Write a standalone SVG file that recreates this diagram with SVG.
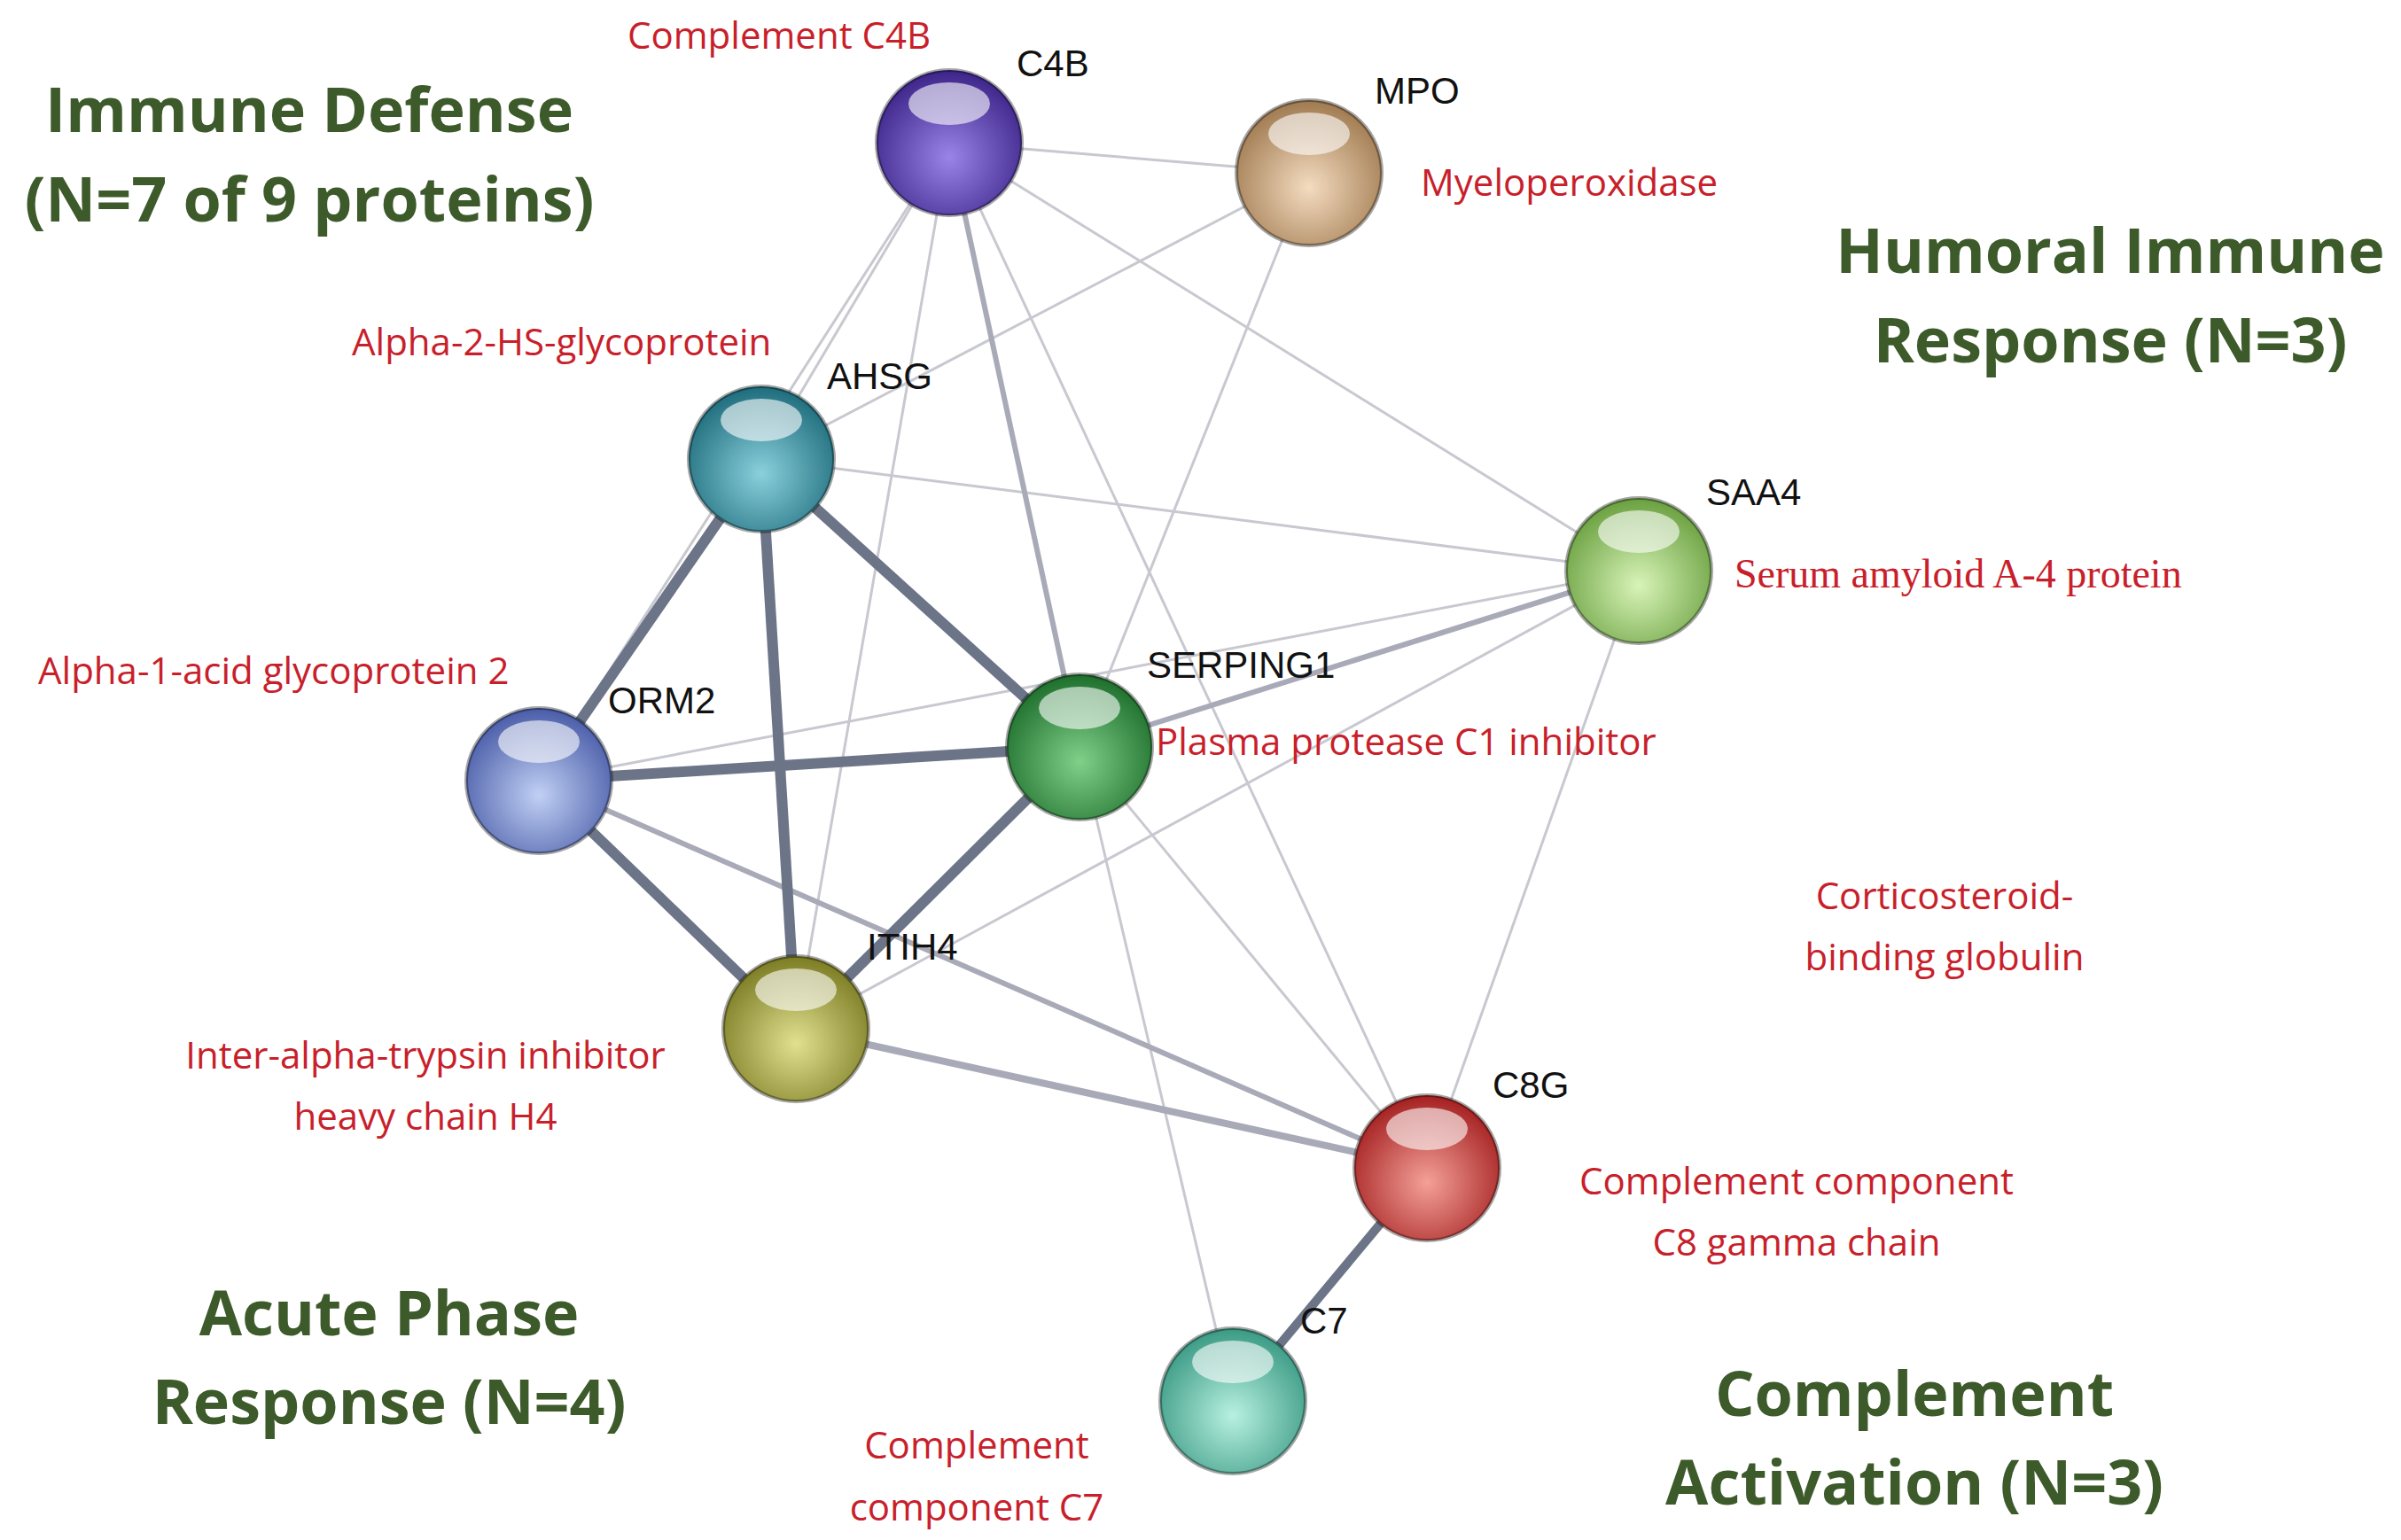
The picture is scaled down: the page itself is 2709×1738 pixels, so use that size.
<svg xmlns="http://www.w3.org/2000/svg" width="2709" height="1738" viewBox="0 0 2709 1738">
<style>
.h{font-family:"Open Sans","Noto Sans",sans-serif;font-weight:bold;font-size:70px;fill:#3d5a2a;text-anchor:middle}
.r{font-family:"Open Sans","Noto Sans",sans-serif;font-size:42px;fill:#c8202a}
.rs{font-family:"Liberation Serif",serif;font-size:46px;fill:#c8202a}
.k{font-family:"Liberation Sans",sans-serif;font-size:42px;fill:#111}
.t1{stroke:#c8c8d0;stroke-width:3;fill:none}
.t2{stroke:#a8aab8;stroke-width:6;fill:none}
.t3{stroke:#6c7488;stroke-width:12;fill:none}
.hl{fill:#fff;opacity:0.6}
.rim{fill:none;stroke:#000;stroke-opacity:0.35;stroke-width:4}
</style>
<defs>
<radialGradient id="gC4B" cx="0.5" cy="0.6" r="0.6"><stop offset="0" stop-color="#9a84e8"/><stop offset="1" stop-color="#3c2488"/></radialGradient>
<radialGradient id="gMPO" cx="0.5" cy="0.6" r="0.6"><stop offset="0" stop-color="#f4dcc0"/><stop offset="1" stop-color="#a07a50"/></radialGradient>
<radialGradient id="gAHSG" cx="0.5" cy="0.6" r="0.6"><stop offset="0" stop-color="#8ad0dc"/><stop offset="1" stop-color="#1e6c7c"/></radialGradient>
<radialGradient id="gSAA4" cx="0.5" cy="0.6" r="0.6"><stop offset="0" stop-color="#d8f4b8"/><stop offset="1" stop-color="#6aa040"/></radialGradient>
<radialGradient id="gORM2" cx="0.5" cy="0.6" r="0.6"><stop offset="0" stop-color="#c0d0f4"/><stop offset="1" stop-color="#4a5ca8"/></radialGradient>
<radialGradient id="gSER" cx="0.5" cy="0.6" r="0.6"><stop offset="0" stop-color="#80d08a"/><stop offset="1" stop-color="#1e6e2c"/></radialGradient>
<radialGradient id="gITIH4" cx="0.5" cy="0.6" r="0.6"><stop offset="0" stop-color="#e0e090"/><stop offset="1" stop-color="#7c7c24"/></radialGradient>
<radialGradient id="gC8G" cx="0.5" cy="0.6" r="0.6"><stop offset="0" stop-color="#f4a098"/><stop offset="1" stop-color="#a42020"/></radialGradient>
<radialGradient id="gC7" cx="0.5" cy="0.6" r="0.6"><stop offset="0" stop-color="#b8f0e0"/><stop offset="1" stop-color="#3a9a84"/></radialGradient>
</defs>
<rect width="2709" height="1738" fill="#fff"/>
<g id="connectors">
<line class="t1" x1="1071" y1="161" x2="1477" y2="195"/>
<line class="t1" x1="1071" y1="161" x2="859" y2="518"/>
<line class="t1" x1="1071" y1="161" x2="608" y2="881"/>
<line class="t1" x1="1071" y1="161" x2="898" y2="1161"/>
<line class="t1" x1="1071" y1="161" x2="1610" y2="1318"/>
<line class="t1" x1="1071" y1="161" x2="1849" y2="644"/>
<line class="t1" x1="1477" y1="195" x2="859" y2="518"/>
<line class="t1" x1="1477" y1="195" x2="1218" y2="843"/>
<line class="t1" x1="859" y1="518" x2="1849" y2="644"/>
<line class="t1" x1="608" y1="881" x2="1849" y2="644"/>
<line class="t1" x1="898" y1="1161" x2="1849" y2="644"/>
<line class="t1" x1="1218" y1="843" x2="1610" y2="1318"/>
<line class="t1" x1="1218" y1="843" x2="1391" y2="1581"/>
<line class="t1" x1="1849" y1="644" x2="1610" y2="1318"/>
<line class="t2" x1="608" y1="881" x2="1610" y2="1318"/>
<line class="t2" x1="1218" y1="843" x2="1849" y2="644"/>
<line class="t2" x1="1071" y1="161" x2="1218" y2="843"/>
<line class="t2" x1="898" y1="1161" x2="1610" y2="1318" style="stroke-width:8"/>
<line class="t3" x1="859" y1="518" x2="608" y2="881"/>
<line class="t3" x1="859" y1="518" x2="898" y2="1161"/>
<line class="t3" x1="859" y1="518" x2="1218" y2="843"/>
<line class="t3" x1="608" y1="881" x2="1218" y2="843"/>
<line class="t3" x1="608" y1="881" x2="898" y2="1161"/>
<line class="t3" x1="898" y1="1161" x2="1218" y2="843"/>
<line class="t3" x1="1610" y1="1318" x2="1391" y2="1581" style="stroke-width:10"/>
</g>
<g id="C4B"><circle cx="1071" cy="161" r="82" fill="url(#gC4B)"/><circle class="rim" cx="1071" cy="161" r="82"/><ellipse class="hl" cx="1071" cy="117" rx="46" ry="24"/><text class="k" x="1147" y="86">C4B</text><text class="r" x="708" y="55">Complement C4B</text></g>
<g id="MPO"><circle cx="1477" cy="195" r="82" fill="url(#gMPO)"/><circle class="rim" cx="1477" cy="195" r="82"/><ellipse class="hl" cx="1477" cy="151" rx="46" ry="24"/><text class="k" x="1551" y="117">MPO</text><text class="r" x="1603" y="221">Myeloperoxidase</text></g>
<g id="AHSG"><circle cx="859" cy="518" r="82" fill="url(#gAHSG)"/><circle class="rim" cx="859" cy="518" r="82"/><ellipse class="hl" cx="859" cy="474" rx="46" ry="24"/><text class="k" x="933" y="439">AHSG</text><text class="r" x="397" y="401">Alpha-2-HS-glycoprotein</text></g>
<g id="SAA4"><circle cx="1849" cy="644" r="82" fill="url(#gSAA4)"/><circle class="rim" cx="1849" cy="644" r="82"/><ellipse class="hl" cx="1849" cy="600" rx="46" ry="24"/><text class="k" x="1925" y="570">SAA4</text><text class="rs" x="1957" y="663">Serum amyloid A-4 protein</text></g>
<g id="ORM2"><circle cx="608" cy="881" r="82" fill="url(#gORM2)"/><circle class="rim" cx="608" cy="881" r="82"/><ellipse class="hl" cx="608" cy="837" rx="46" ry="24"/><text class="k" x="686" y="805">ORM2</text><text class="r" x="43" y="772">Alpha-1-acid glycoprotein 2</text></g>
<g id="SERPING1"><circle cx="1218" cy="843" r="82" fill="url(#gSER)"/><circle class="rim" cx="1218" cy="843" r="82"/><ellipse class="hl" cx="1218" cy="799" rx="46" ry="24"/><text class="k" x="1294" y="765">SERPING1</text><text class="r" x="1304" y="852">Plasma protease C1 inhibitor</text></g>
<g id="ITIH4"><circle cx="898" cy="1161" r="82" fill="url(#gITIH4)"/><circle class="rim" cx="898" cy="1161" r="82"/><ellipse class="hl" cx="898" cy="1117" rx="46" ry="24"/><text class="k" x="978" y="1083">ITIH4</text><text class="r" x="480" y="1206" text-anchor="middle">Inter-alpha-trypsin inhibitor</text><text class="r" x="480" y="1275" text-anchor="middle">heavy chain H4</text></g>
<g id="C8G"><circle cx="1610" cy="1318" r="82" fill="url(#gC8G)"/><circle class="rim" cx="1610" cy="1318" r="82"/><ellipse class="hl" cx="1610" cy="1274" rx="46" ry="24"/><text class="k" x="1684" y="1239">C8G</text><text class="r" x="2027" y="1348" text-anchor="middle">Complement component</text><text class="r" x="2027" y="1417" text-anchor="middle">C8 gamma chain</text></g>
<g id="C7"><circle cx="1391" cy="1581" r="82" fill="url(#gC7)"/><circle class="rim" cx="1391" cy="1581" r="82"/><ellipse class="hl" cx="1391" cy="1537" rx="46" ry="24"/><text class="k" x="1467" y="1505">C7</text><text class="r" x="1102" y="1646" text-anchor="middle">Complement</text><text class="r" x="1102" y="1716" text-anchor="middle">component C7</text></g>
<g id="CBG"><text class="r" x="2194" y="1026" text-anchor="middle">Corticosteroid-</text><text class="r" x="2194" y="1095" text-anchor="middle">binding globulin</text></g>
<g id="headings">
<text class="h" x="349" y="149">Immune Defense</text><text class="h" x="349" y="250">(N=7 of 9 proteins)</text>
<text class="h" x="2381" y="308">Humoral Immune</text><text class="h" x="2381" y="409">Response (N=3)</text>
<text class="h" x="439" y="1507">Acute Phase</text><text class="h" x="439" y="1607">Response (N=4)</text>
<text class="h" x="2160" y="1598">Complement</text><text class="h" x="2160" y="1698">Activation (N=3)</text>
</g>
</svg>
